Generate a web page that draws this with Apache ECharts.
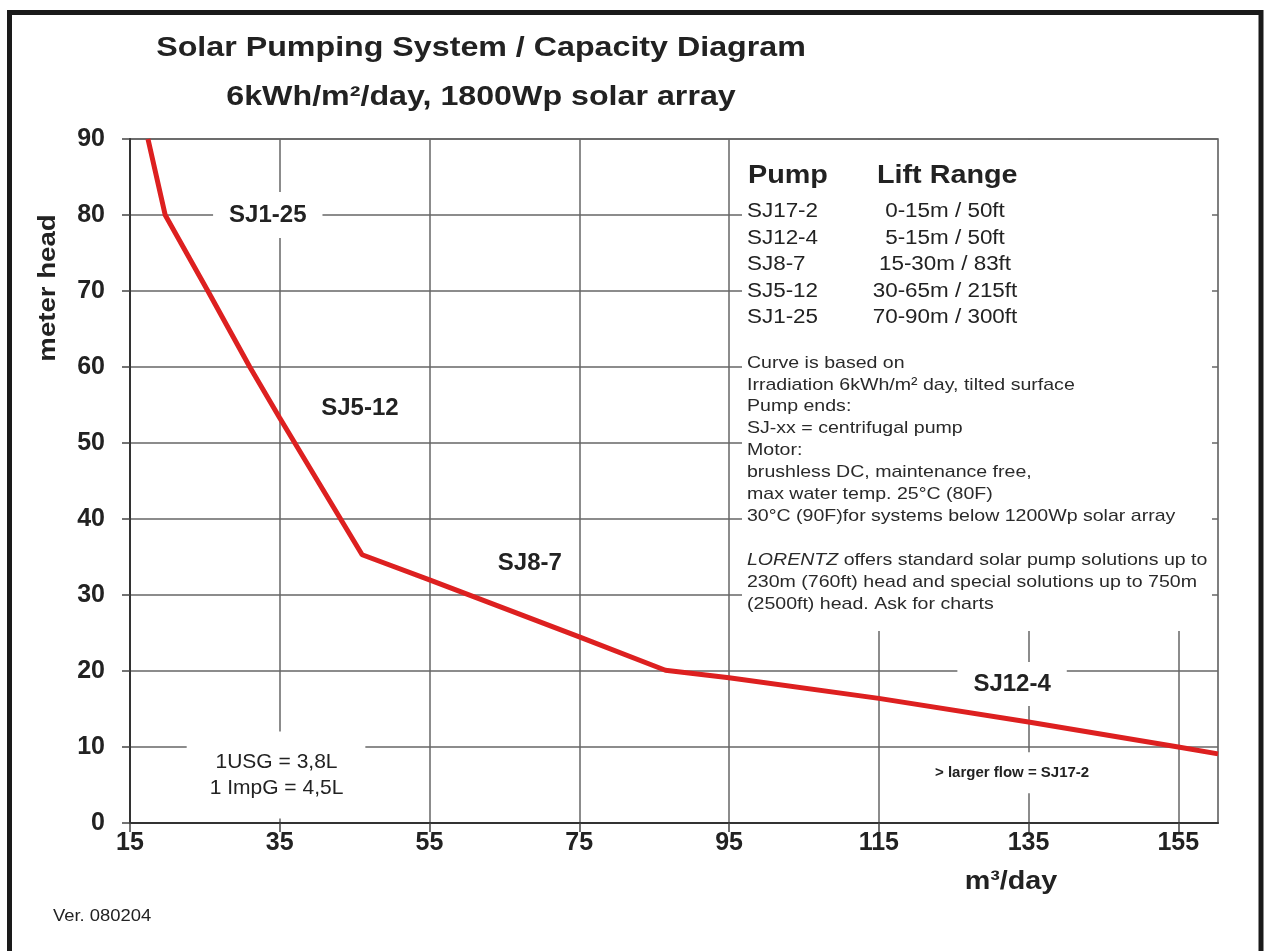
<!DOCTYPE html>
<html>
<head>
<meta charset="UTF-8">
<title>Solar Pumping System / Capacity Diagram</title>
<style>
  html, body { margin: 0; padding: 0; background: #fff; }
  #chart { width: 1264px; height: 951px; }
</style>
</head>
<body>
<div id="chart"></div>
<script src="https://cdn.jsdelivr.net/npm/echarts@6/dist/echarts.min.js"></script>
<script>
// capacity curve
var flow = [17.4, 19.7, 25.4, 31, 35, 46, 55, 75, 86.5, 95, 115, 135, 155, 160.3];
var head = [90, 80, 70, 60, 53.3, 35.3, 32, 24.5, 20.1, 19.1, 16.4, 13.3, 10, 9.1];

// axes
var flowTicks = [15, 35, 55, 75, 95, 115, 135, 155];
var flowMin = 15, flowMax = 160.3;
var headMin = 0, headMax = 90, headStep = 10;

// labels inside the plot
var annoText = ['SJ1-25', 'SJ5-12', 'SJ8-7', 'SJ12-4', '> larger flow = SJ17-2', '1USG = 3,8L\n1 ImpG = 4,5L'];
var annoFlow = [33.4, 45.7, 68.4, 132.8, 132.8, 34.5];
var annoHead = [80, 54.6, 34.2, 18.3, 6.6, 6.3];

// pump table
var pumps = ['SJ17-2', 'SJ12-4', 'SJ8-7', 'SJ5-12', 'SJ1-25'];
var lifts = ['0-15m / 50ft', '5-15m / 50ft', '15-30m / 83ft', '30-65m / 215ft', '70-90m / 300ft'];

var notes = [
  'Curve is based on',
  'Irradiation 6kWh/m\u00b2 day, tilted surface',
  'Pump ends:',
  'SJ-xx = centrifugal pump',
  'Motor:',
  'brushless DC, maintenance free,',
  'max water temp. 25\u00b0C (80F)',
  '30\u00b0C (90F)for systems below 1200Wp solar array',
  '',
  '{i|LORENTZ} offers standard solar pump solutions up to',
  '230m (760ft) head and special solutions up to 750m',
  '(2500ft) head. Ask for charts'
];

var FONT = '"Liberation Sans", Arial, Helvetica, sans-serif';
var SX = 1.15; // source text is a little wide

function txt(x, y, text, size, weight, align, extra) {
  var el = {
    type: 'text', x: x, y: y, scaleX: SX, z: 5,
    style: {
      text: text, fill: '#222',
      font: (weight || 'normal') + ' ' + size + 'px ' + FONT,
      textAlign: align || 'left', textVerticalAlign: 'middle'
    }
  };
  if (extra) {
    for (var k in extra) el[k] = extra[k];
  }
  return el;
}

var graphics = [
  // outer frame
  { type: 'rect', z: 10, shape: { x: 9.5, y: 12.5, width: 1251.5, height: 960 },
    style: { fill: 'none', stroke: '#1a1a1a', lineWidth: 5 } },
  // white panel behind the table
  { type: 'rect', z: 1, shape: { x: 742, y: 140, width: 470, height: 491 },
    style: { fill: '#fff' } },
  txt(481, 48, 'Solar Pumping System / Capacity Diagram', 28, 'bold', 'center'),
  txt(481, 97, '6kWh/m\u00b2/day, 1800Wp solar array', 28, 'bold', 'center'),
  txt(48, 288, 'meter head', 24, 'bold', 'center', { rotation: Math.PI / 2 }),
  txt(1011, 882, 'm\u00b3/day', 25, 'bold', 'center'),
  txt(53, 917, 'Ver. 080204', 16, 'normal', 'left'),
  txt(748, 176, 'Pump', 25, 'bold', 'left'),
  txt(877, 176, 'Lift Range', 25, 'bold', 'left')
];

pumps.forEach(function (p, i) {
  var y = 212 + i * 26.5;
  graphics.push(txt(747, y, p, 19.5, 'normal', 'left'));
  graphics.push(txt(945, y, lifts[i], 19.5, 'normal', 'center'));
});

notes.forEach(function (line, i) {
  if (!line) return;
  var el = txt(747, 363 + i * 21.9, line, 17, 'normal', 'left');
  el.style.fill = '#2a2a2a';
  el.style.rich = { i: { fontStyle: 'italic', fontSize: 17, fontFamily: FONT, fill: '#2a2a2a' } };
  graphics.push(el);
});

var annoStyle = [
  { fontSize: 24, fontWeight: 'bold', padding: [11, 16] },
  { fontSize: 24, fontWeight: 'bold', padding: [4, 4] },
  { fontSize: 24, fontWeight: 'bold', padding: [4, 4] },
  { fontSize: 24, fontWeight: 'bold', padding: [10, 16] },
  { fontSize: 15, fontWeight: 'bold', padding: [13, 4] },
  { fontSize: 21, fontWeight: 'normal', padding: [20, 22, 15, 23], lineHeight: 26 }
];

var annoData = annoText.map(function (t, i) {
  var s = annoStyle[i];
  return {
    value: [annoFlow[i], annoHead[i]],
    label: {
      formatter: t, fontSize: s.fontSize, fontWeight: s.fontWeight,
      padding: s.padding, lineHeight: s.lineHeight || s.fontSize
    }
  };
});

var chart = echarts.init(document.getElementById('chart'), null, { renderer: 'canvas' });

chart.setOption({
  animation: false,
  backgroundColor: '#fff',
  textStyle: { fontFamily: FONT },
  grid: {
    left: 130, right: 46, top: 139, bottom: 128,
    show: true, borderColor: '#555', borderWidth: 1.5
  },
  xAxis: {
    type: 'value', min: flowMin, max: flowMax,
    axisLine: { show: true, lineStyle: { color: '#333', width: 2 } },
    axisTick: { show: true, length: 9, customValues: flowTicks, lineStyle: { color: '#444', width: 1.5 } },
    axisLabel: { customValues: flowTicks, margin: 8, fontSize: 25, fontWeight: 'bold', color: '#222', fontFamily: FONT },
    splitLine: { show: true, lineStyle: { color: '#666', width: 1.5 } }
  },
  yAxis: {
    type: 'value', min: headMin, max: headMax, interval: headStep,
    axisLine: { show: true, lineStyle: { color: '#333', width: 2 } },
    axisTick: { show: true, length: 8, lineStyle: { color: '#444', width: 1.5 } },
    axisLabel: { margin: 25, fontSize: 25, fontWeight: 'bold', color: '#222', fontFamily: FONT },
    splitLine: { show: true, lineStyle: { color: '#666', width: 1.5 } }
  },
  graphic: graphics,
  series: [
    {
      type: 'line', z: 4,
      data: flow.map(function (f, i) { return [f, head[i]]; }),
      symbol: 'none',
      lineStyle: { color: '#dd2020', width: 5 }
    },
    {
      type: 'scatter', z: 3,
      symbolSize: 0,
      data: annoData,
      silent: true,
      itemStyle: { opacity: 1 },
      label: {
        show: true, position: 'inside', color: '#222', opacity: 1,
        backgroundColor: '#fff', fontFamily: FONT, align: 'center'
      }
    }
  ]
});
</script>
</body>
</html>
